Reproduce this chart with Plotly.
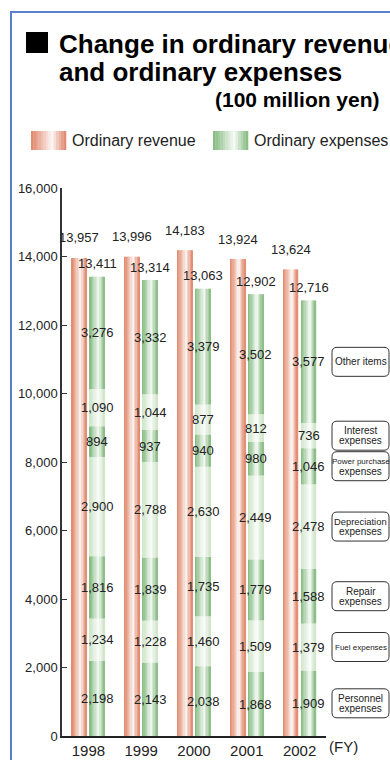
import plotly.graph_objects as go

# ---------------- data ----------------
years = ["1998", "1999", "2000", "2001", "2002"]
revenue = [13957, 13996, 14183, 13924, 13624]
expense_totals = [13411, 13314, 13063, 12902, 12716]

personnel = [2198, 2143, 2038, 1868, 1909]
fuel = [1234, 1228, 1460, 1509, 1379]
repair = [1816, 1839, 1735, 1779, 1588]
depreciation = [2900, 2788, 2630, 2449, 2478]
power_purchase = [894, 937, 940, 980, 1046]
interest = [1090, 1044, 877, 812, 736]
other_items = [3276, 3332, 3379, 3502, 3577]

segment_names = ["Personnel<br>expenses", "Fuel expenses", "Repair<br>expenses",
                 "Depreciation<br>expenses", "Power purchase<br>expenses",
                 "Interest<br>expenses", "Other items"]
segments = [personnel, fuel, repair, depreciation, power_purchase, interest, other_items]

y_ticks = [0, 2000, 4000, 6000, 8000, 10000, 12000, 14000, 16000]

# ---------------- styling helpers ----------------
W, H = 390, 760
ML, MR, MT, MB = 62, 64, 188, 24
PW, PH = W - ML - MR, H - MT - MB
FONT = "Liberation Sans, Arial, sans-serif"
TXT = "#222222"


def px(x):
    return (x - ML) / PW


def py(y):
    return (H - MB - y) / PH


RED = (224, 134, 106)
DARK = (132, 186, 128)
LIGHT = (206, 228, 200)


def shade(t):
    d = (0.6 - t) / 0.6 if t < 0.6 else (t - 0.6) / 0.4
    return 0.94 * max(0.0, 1 - d) ** 1.1


def mix(c, f):
    r, g, b = (round(v + (255 - v) * f) for v in c)
    return f"rgb({r},{g},{b})"


N = 12
BAR_W = 0.285
REV_OFF = -0.313
EXP_OFF = 0.028
SW = BAR_W / N

fig = go.Figure()

# revenue bars (gradient strips)
for i in range(N):
    t = (i + 0.5) / N
    fig.add_trace(go.Bar(
        x=years, y=revenue, offset=REV_OFF + i * SW, width=SW * 1.08,
        marker=dict(color=mix(RED, shade(t)), line=dict(width=0)),
        showlegend=False, hoverinfo="skip"))

# stacked expense segments
xs, vals, bases, kinds = [], [], [], []
cum = [0] * len(years)
centers = []
for k, seg in enumerate(segments):
    row = []
    for j, v in enumerate(seg):
        xs.append(years[j])
        vals.append(v)
        bases.append(cum[j])
        kinds.append(k % 2 == 0)
        row.append(cum[j] + v / 2)
        cum[j] += v
    centers.append(row)

for i in range(N):
    t = (i + 0.5) / N
    f = shade(t)
    fig.add_trace(go.Bar(
        x=xs, y=vals, base=bases, offset=EXP_OFF + i * SW, width=SW * 1.08,
        marker=dict(color=[mix(DARK if d else LIGHT, f) for d in kinds], line=dict(width=0)),
        showlegend=False, hoverinfo="skip"))

ann = []
# totals (x given as category index)
for j, yr in enumerate(years):
    ann.append(dict(x=j, y=revenue[j], xref="x", yref="y", text=f"{revenue[j]:,}",
                    xanchor="center", yanchor="middle",
                    showarrow=False, xshift=-9, yshift=20, font=dict(size=13, color=TXT)))
    ann.append(dict(x=j, y=expense_totals[j], xref="x", yref="y", text=f"{expense_totals[j]:,}",
                    xanchor="center", yanchor="middle",
                    showarrow=False, xshift=9, yshift=13, font=dict(size=13, color=TXT)))
# segment values
for k, seg in enumerate(segments):
    for j, yr in enumerate(years):
        ann.append(dict(x=j, y=centers[k][j], xref="x", yref="y", text=f"{seg[j]:,}",
                        xanchor="center", yanchor="middle",
                        showarrow=False, xshift=9, font=dict(size=13, color=TXT)))

shapes = []
# right side category boxes, anchored at last year's segment centres
box_sizes = {"Power purchase<br>expenses": (8, 10), "Fuel expenses": (8,),
             "Depreciation<br>expenses": (9.4, 10)}
for k, name in enumerate(segment_names):
    yc = centers[k][-1]
    w, h, r = 57, 14.5, 5
    path = (f"M {r},{-h} L {w - r},{-h} Q {w},{-h} {w},{-h + r} L {w},{h - r} "
            f"Q {w},{h} {w - r},{h} L {r},{h} Q 0,{h} 0,{h - r} L 0,{-h + r} Q 0,{-h} {r},{-h} Z")
    shapes.append(dict(type="path", xref="paper", yref="y", xsizemode="pixel", ysizemode="pixel",
                       xanchor=px(332), yanchor=yc, path=path,
                       line=dict(color="#333333", width=1), fillcolor="white"))
    lines = name.split("<br>")
    sizes = box_sizes.get(name, (10, 10))
    for li, txt in enumerate(lines):
        shift = 0 if len(lines) == 1 else (5 if li == 0 else -5)
        ann.append(dict(x=px(360.5), y=yc, xref="paper", yref="y", text=txt, showarrow=False,
                        xanchor="center", yanchor="middle",
                        yshift=shift, font=dict(size=sizes[min(li, len(sizes) - 1)], color=TXT)))

# title block
ann.append(dict(x=px(57), y=py(44), xref="paper", yref="paper", xanchor="left", yanchor="middle",
                text="<b>Change in ordinary revenue</b>", showarrow=False,
                font=dict(size=26, color="#000000")))
ann.append(dict(x=px(57), y=py(72), xref="paper", yref="paper", xanchor="left", yanchor="middle",
                text="<b>and ordinary expenses</b>", showarrow=False,
                font=dict(size=26, color="#000000")))
ann.append(dict(x=px(382), y=py(100), xref="paper", yref="paper", xanchor="right", yanchor="middle",
                text="<b>(100 million yen)</b>", showarrow=False,
                font=dict(size=21, color="#000000")))
shapes.append(dict(type="rect", xref="paper", yref="paper", x0=px(26), x1=px(48), y0=py(32), y1=py(53),
                   fillcolor="black", line=dict(width=0)))
# frame
shapes.append(dict(type="rect", xref="paper", yref="paper", x0=px(11), x1=px(400), y0=py(12), y1=py(780),
                   fillcolor="rgba(0,0,0,0)", line=dict(color="#5b7ec8", width=2)))

# legend
ann.append(dict(x=px(70), y=py(141), xref="paper", yref="paper", xanchor="left", yanchor="middle",
                text="Ordinary revenue", showarrow=False, font=dict(size=16, color=TXT)))
ann.append(dict(x=px(252), y=py(141), xref="paper", yref="paper", xanchor="left", yanchor="middle",
                text="Ordinary expenses", showarrow=False, font=dict(size=16, color=TXT)))
NS = 14
for x0, col in ((31, RED), (213, DARK)):
    sw = 35 / NS
    for i in range(NS):
        t = (i + 0.5) / NS
        shapes.append(dict(type="rect", xref="paper", yref="paper",
                           x0=px(x0 + i * sw), x1=px(x0 + (i + 1) * sw + 0.3),
                           y0=py(131), y1=py(150), fillcolor=mix(col, shade(t)), line=dict(width=0)))

# FY label
ann.append(dict(x=px(327), y=py(746), xref="paper", yref="paper", xanchor="left", yanchor="middle",
                text="(FY)", showarrow=False, font=dict(size=15, color=TXT)))

fig.update_layout(
    width=W, height=H, barmode="overlay", template="none",
    margin=dict(l=ML, r=MR, t=MT, b=MB, pad=0),
    paper_bgcolor="white", plot_bgcolor="white",
    font=dict(family=FONT, color=TXT),
    annotations=ann, shapes=shapes, hovermode=False, showlegend=False,
    xaxis=dict(type="category", range=[-0.5, 4.5], showline=True, linecolor="#222222", linewidth=2,
               ticks="", showgrid=False, zeroline=False, tickfont=dict(size=15, color=TXT)),
    yaxis=dict(range=[0, 16000], tickvals=y_ticks, tickformat=",", showline=True,
               linecolor="#333333", linewidth=1.5, ticks="inside", ticklen=5, tickcolor="#333333",
               showgrid=False, zeroline=False, tickfont=dict(size=13, color=TXT)),
)

fig.write_html("out.html", config={"displayModeBar": False})
